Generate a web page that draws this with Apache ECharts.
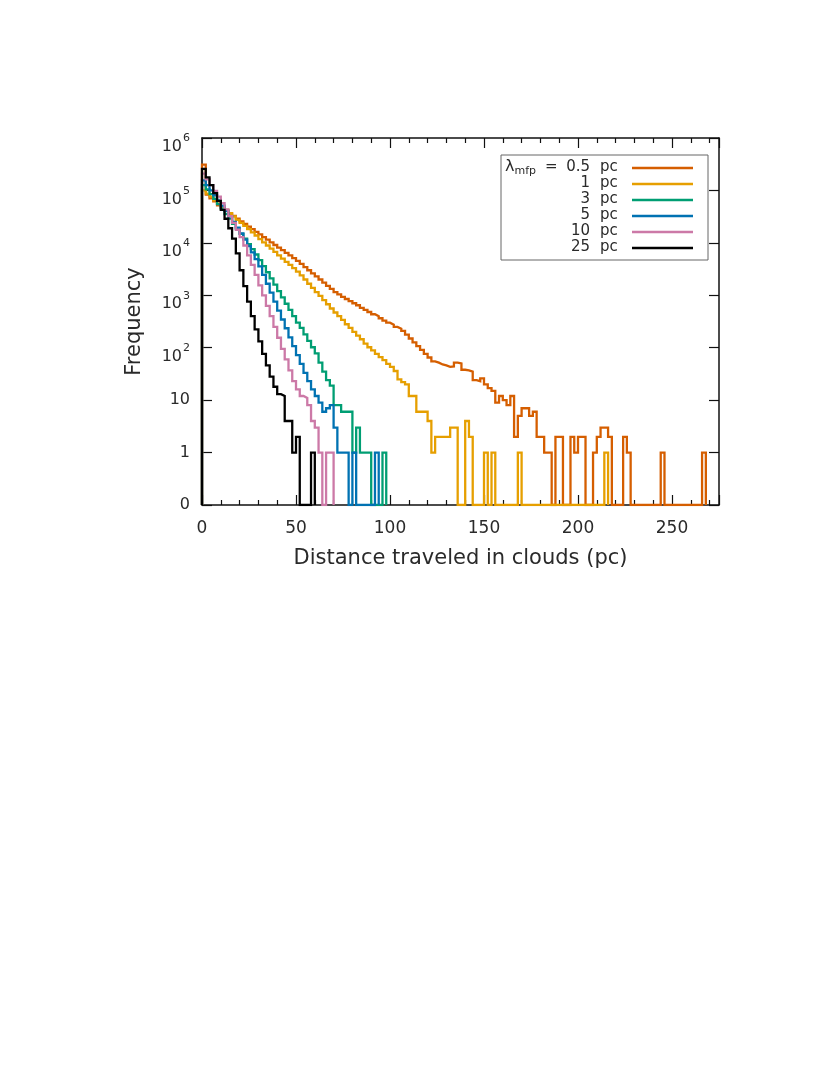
<!DOCTYPE html>
<html>
<head>
<meta charset="utf-8">
<script src="https://cdn.jsdelivr.net/npm/echarts@6/dist/echarts.min.js"></script>
<style>
html,body{margin:0;padding:0;background:#fff;}
#chart{width:830px;height:1075px;}
</style>
</head>
<body>
<div id="chart"></div>
<script>
// ---- data ----
const binWidth = 2; // pc
const xTicks = [0, 50, 100, 150, 200, 250];
const mfpLabels = ['0.5', '1', '3', '5', '10', '25'];
const mfpColors = ['#D55E00', '#E69F00', '#009E73', '#0072B2', '#CC79A7', '#000000'];

const mfp05 = [
  310000, 83000, 71000, 62000, 52000, 46000, 41000, 36000, 32500, 29000,
  25700, 23000, 20400, 18200, 16200, 14500, 12900, 11500, 10200, 9100,
  8100, 7250, 6450, 5750, 5100, 4550, 3980, 3450, 3000, 2620,
  2300, 2000, 1740, 1510, 1320, 1150, 1040, 935, 850, 775,
  705, 645, 575, 525, 480, 435, 400, 365, 330, 300,
  275, 250, 230, 210, 178, 150, 126, 107, 91, 76,
  65, 55, 52, 48, 46, 43, 44, 52, 50, 38,
  37, 35, 24, 23, 26, 20, 17, 15, 9, 12,
  10, 8, 12, 2, 5, 7, 7, 5, 6, 2,
  2, 1, 1, 0, 2, 2, 0, 0, 2, 1,
  2, 2, 0, 0, 1, 2, 3, 3, 2, 0,
  0, 0, 2, 1, 0, 0, 0, 0, 0, 0,
  0, 0, 1, 0, 0, 0, 0, 0, 0, 0,
  0, 0, 0, 1
];
const mfp1 = [
  100000, 87000, 76000, 65000, 56000, 49000, 42500, 37000, 32000, 27500,
  24000, 21000, 18200, 15800, 13800, 11800, 10200, 8900, 7750, 6750,
  5750, 5000, 4350, 3800, 3300, 2820, 2400, 2000, 1660, 1380,
  1150, 975, 810, 675, 560, 470, 400, 340, 280, 240,
  200, 170, 145, 120, 102, 89, 76, 66, 58, 49,
  43, 36, 25, 22, 20, 12, 12, 6, 6, 6,
  4, 1, 2, 2, 2, 2, 3, 3, 0, 0,
  4, 2, 0, 0, 0, 1, 0, 1, 0, 0,
  0, 0, 0, 0, 1, 0, 0, 0, 0, 0,
  0, 0, 0, 0, 0, 0, 0, 0, 0, 0,
  0, 0, 0, 0, 0, 0, 0, 1
];
const mfp3 = [
  126000, 105000, 85000, 69000, 55000, 45000, 35500, 29000, 23000, 18600,
  14800, 12000, 9500, 7600, 6000, 4700, 3600, 2750, 2100, 1600,
  1200, 910, 690, 525, 400, 300, 240, 180, 135, 102,
  78, 52, 35, 24, 19, 8, 8, 6, 6, 6,
  1, 3, 1, 1, 1, 0, 0, 0, 1
];
const mfp5 = [
  155000, 126000, 100000, 81000, 64500, 51000, 40700, 32300, 25100, 19500,
  15100, 11500, 8700, 6600, 4900, 3550, 2450, 1660, 1120, 760,
  510, 345, 235, 158, 107, 72, 49, 33, 23, 16,
  12, 9, 6, 7, 8, 3, 1, 1, 1, 0,
  1, 0, 0, 0, 0, 0, 1
];
const mfp10 = [
  210000, 162000, 126000, 98000, 76000, 57500, 43600, 32400, 24000, 17800,
  12900, 8900, 5750, 3800, 2450, 1550, 1000, 630, 400, 250,
  155, 95, 60, 37, 23, 16, 12, 11, 8, 4,
  3, 1, 0, 1, 1
];
const mfp25 = [
  257000, 178000, 126000, 89000, 63000, 42700, 28800, 19000, 12000, 6300,
  3000, 1500, 760, 400, 224, 132, 76, 46, 28, 18,
  13, 12, 4, 4, 1, 2, 0, 0, 0, 1
];
const allSeries = [mfp05, mfp1, mfp3, mfp5, mfp10, mfp25];

// ---- chart ----
const ZERO = 0.1; // the "0" row of the log axis
function histPoints(counts) {
  const pts = [[0, ZERO]];
  counts.forEach((c, i) => pts.push([i * binWidth, c > 0 ? c : ZERO]));
  pts.push([counts.length * binWidth, ZERO]);
  return pts;
}

const FONT = 'DejaVu Sans';
const TXT = '#2a2a2a';
const G = {left: 202, top: 138, right: 111, bottom: 570};

function yLabel(v) {
  const e = Math.round(Math.log10(v));
  if (e < 0) return '0';
  if (e === 0) return '1';
  if (e === 1) return '10';
  return '{b|10}{s|' + e + '}';
}

const chart = echarts.init(document.getElementById('chart'), null, {renderer: 'canvas'});

const xCommon = {
  type: 'value', min: 0, max: 275, interval: 50,
  axisLine: {show: true, onZero: false, lineStyle: {color: '#111', width: 1.5}},
  axisTick: {show: true, inside: true, length: 10, lineStyle: {color: '#111', width: 1.2}},
  minorTick: {show: true, splitNumber: 5, length: 5, lineStyle: {color: '#111', width: 1.2}},
  splitLine: {show: false}, minorSplitLine: {show: false}
};
const yCommon = {
  type: 'log', logBase: 10, min: ZERO, max: 1e6, splitNumber: 7,
  axisLine: {show: true, onZero: false, lineStyle: {color: '#111', width: 1.5}},
  axisTick: {show: true, inside: true, length: 10, lineStyle: {color: '#111', width: 1.2}},
  minorTick: {show: false},
  splitLine: {show: false}
};

const legendRows = [167, 183, 199, 215, 231, 247];
const graphics = [
  {type: 'rect', shape: {x: 501, y: 155, width: 207, height: 105},
   style: {fill: '#fff', stroke: '#666', lineWidth: 1}, z: 100},
  {type: 'text', x: 505, y: legendRows[0], z: 101,
   style: {text: '{l|λ}{sub|mfp}', verticalAlign: 'middle', fill: TXT, font: '15px ' + FONT,
     rich: {l: {fontSize: 16, fontFamily: FONT, fill: TXT},
            sub: {fontSize: 11, fontFamily: FONT, fill: TXT, verticalAlign: 'bottom', padding: [8, 0, 0, 0]}}}},
  {type: 'text', x: 545, y: legendRows[0], z: 101,
   style: {text: '=', verticalAlign: 'middle', fill: TXT, font: '15px ' + FONT}}
];
mfpLabels.forEach((lab, i) => {
  graphics.push({type: 'text', x: 590, y: legendRows[i], z: 101,
    style: {text: lab, align: 'right', verticalAlign: 'middle', fill: TXT, font: '15px ' + FONT}});
  graphics.push({type: 'text', x: 600, y: legendRows[i], z: 101,
    style: {text: 'pc', align: 'left', verticalAlign: 'middle', fill: TXT, font: '15px ' + FONT}});
  graphics.push({type: 'line', z: 101, shape: {x1: 632, y1: legendRows[i] + 1, x2: 693, y2: legendRows[i] + 1},
    style: {stroke: mfpColors[i], lineWidth: 2.5}});
});

const option = {
  animation: false,
  backgroundColor: '#fff',
  grid: {left: G.left, top: G.top, right: G.right, bottom: G.bottom, containLabel: false},
  xAxis: [
    Object.assign({}, xCommon, {
      position: 'bottom',
      name: 'Distance traveled in clouds (pc)', nameLocation: 'middle', nameGap: 43,
      nameTextStyle: {fontFamily: FONT, fontSize: 21, color: TXT},
      axisLabel: {show: true, margin: 15, fontFamily: FONT, fontSize: 17, color: TXT,
        showMinLabel: true, showMaxLabel: false,
        formatter: v => (xTicks.indexOf(v) >= 0 ? String(v) : '')}
    }),
    Object.assign({}, xCommon, {position: 'top', axisLabel: {show: false}})
  ],
  yAxis: [
    Object.assign({}, yCommon, {
      position: 'left',
      name: 'Frequency', nameLocation: 'middle', nameGap: 57, nameRotate: 90,
      nameTextStyle: {fontFamily: FONT, fontSize: 21, color: TXT},
      axisLabel: {show: true, margin: 12, fontFamily: FONT, fontSize: 16, color: TXT,
        showMinLabel: true, showMaxLabel: true, formatter: yLabel,
        rich: {b: {fontFamily: FONT, fontSize: 16, lineHeight: 16, color: TXT, padding: [18, 0, 0, 0]},
               s: {fontFamily: FONT, fontSize: 11, lineHeight: 11, color: TXT, verticalAlign: 'top', padding: [3, 0, 0, 1]}}}
    }),
    Object.assign({}, yCommon, {position: 'right', axisLabel: {show: false}})
  ],
  graphic: graphics,
  series: allSeries.map((counts, i) => ({
    type: 'line', name: mfpLabels[i] + ' pc', step: 'end',
    xAxisIndex: 0, yAxisIndex: 0,
    data: histPoints(counts),
    showSymbol: false, symbol: 'none', clip: true,
    lineStyle: {color: mfpColors[i], width: 2.3, join: 'miter', cap: 'butt'},
    z: 2 + i
  }))
};
chart.setOption(option);
</script>
</body>
</html>
